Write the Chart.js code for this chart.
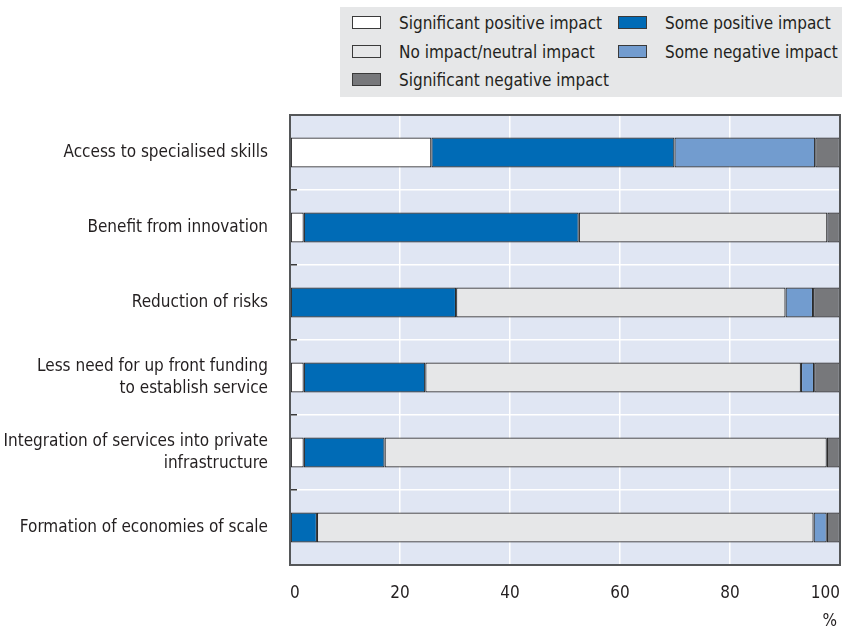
<!DOCTYPE html>
<html>
<head>
<meta charset="utf-8">
<script src="https://cdn.jsdelivr.net/npm/chart.js@4/dist/chart.umd.min.js"></script>
<style>
    body { margin: 0; background: #fff; }
    #wrap { position: relative; width: 842px; height: 630px; }
    #impact-chart { position: absolute; left: 0; top: 0; }
    #legend {
        position: absolute; left: 340px; top: 7px; width: 502px; height: 90px;
        background: #e6e7e8;
        font-family: "Liberation Sans Narrow", "DejaVu Sans Condensed", "Arial Narrow", sans-serif;
        font-size: 17px; color: #231f20;
    }
    .item { position: absolute; height: 20px; line-height: 20px; white-space: nowrap; }
    .item span.box {
        position: absolute; left: 0; top: 3px; width: 27px; height: 11px;
        border: 1.5px solid #3a3a3a;
    }
    .item span.txt { position: absolute; left: 47px; top: 0; }
</style>
</head>
<body>
<div id="wrap">
    <canvas id="impact-chart" width="842" height="630"></canvas>
    <div id="legend"></div>
</div>
<script>
// Perceived impact of outsourcing, share of respondents (%)
const categories = [
    'Access to specialised skills',
    'Benefit from innovation',
    'Reduction of risks',
    ['Less need for up front funding', 'to establish service'],
    ['Integration of services into private', 'infrastructure'],
    'Formation of economies of scale'
];

const seriesNames = [
    'Significant positive impact',
    'Some positive impact',
    'No impact/neutral impact',
    'Some negative impact',
    'Significant negative impact'
];

const significantPositive = [25.7, 2.5, null, 2.5, 2.5, null];
const somePositive        = [44.2, 50.0, 30.2, 22.1, 14.7, 4.9];
const noImpact            = [null, 45.2, 59.9, 68.3, 80.4, 90.3];
const someNegative        = [25.6, null, 5.0, 2.4, null, 2.4];
const significantNegative = [4.5, 2.3, 4.9, 4.7, 2.4, 2.4];

const xTicks = [0, 20, 40, 60, 80, 100];

const seriesColors = ['#ffffff', '#006bb6', '#e6e7e8', '#729ccf', '#77787b'];
const seriesValues = [significantPositive, somePositive, noImpact, someNegative, significantNegative];

const FONT = '"Liberation Sans Narrow", "DejaVu Sans Condensed", "Arial Narrow", sans-serif';

// plot background and the frame around it
const plotFrame = {
    id: 'plotFrame',
    beforeDraw(chart) {
        const { ctx, chartArea: a } = chart;
        ctx.save();
        ctx.fillStyle = '#e0e6f3';
        ctx.fillRect(a.left, a.top, a.right - a.left, a.bottom - a.top);
        ctx.restore();
    },
    afterDatasetsDraw(chart) {
        const { ctx, chartArea: a } = chart;
        ctx.save();
        ctx.strokeStyle = '#555759';
        ctx.lineWidth = 2;
        ctx.strokeRect(a.left, a.top, a.right - a.left, a.bottom - a.top);
        ctx.restore();
    }
};

// "%" unit under the last tick label
const unitLabel = {
    id: 'unitLabel',
    afterDraw(chart) {
        const { ctx } = chart;
        const x = chart.scales.x;
        ctx.save();
        ctx.font = '17px ' + FONT;
        ctx.fillStyle = '#231f20';
        ctx.textAlign = 'right';
        ctx.textBaseline = 'middle';
        ctx.fillText('%', x.getPixelForValue(100) - 3, 622);
        ctx.restore();
    }
};

const chart = new Chart(document.getElementById('impact-chart').getContext('2d'), {
    type: 'bar',
    data: {
        labels: categories,
        datasets: seriesNames.map((name, i) => ({
            label: name,
            data: seriesValues[i],
            backgroundColor: seriesColors[i],
            borderColor: '#2b2b2b',
            borderWidth: 1.2,
            borderSkipped: false,
            barPercentage: 0.4,
            categoryPercentage: 1
        }))
    },
    options: {
        indexAxis: 'y',
        responsive: false,
        animation: false,
        layout: { padding: { top: 115, right: 2, left: 0, bottom: 0 } },
        plugins: {
            legend: { display: false },
            tooltip: { enabled: false }
        },
        scales: {
            x: {
                stacked: true,
                min: 0,
                max: 100,
                afterBuildTicks(scale) {
                    scale.ticks = xTicks.map(v => ({ value: v }));
                },
                afterFit(scale) {
                    scale.height = 65;
                    scale.paddingLeft = 0;
                    scale.paddingRight = 0;
                },
                grid: { color: '#ffffff', lineWidth: 1.5, drawTicks: false },
                border: { display: false },
                ticks: {
                    align: 'inner',
                    padding: 18,
                    color: '#231f20',
                    font: { family: FONT, size: 17 }
                }
            },
            y: {
                stacked: true,
                afterFit(scale) {
                    scale.width = 290;
                    scale.paddingTop = 0;
                    scale.paddingBottom = 0;
                },
                grid: {
                    offset: true,
                    color: '#ffffff',
                    lineWidth: 1.5,
                    drawTicks: true,
                    tickLength: -7,
                    tickColor: '#3a3a3a',
                    tickWidth: 1.5
                },
                border: { display: false },
                ticks: {
                    padding: 29,
                    color: '#231f20',
                    font: { family: FONT, size: 17, lineHeight: 1.28 }
                }
            }
        }
    },
    plugins: [plotFrame, unitLabel]
});

// two-column legend built from the chart's datasets
const legendEl = document.getElementById('legend');
const colX = [12, 278];
const rowY = [6, 35, 63];
chart.data.datasets.forEach((ds, i) => {
    const item = document.createElement('div');
    item.className = 'item';
    item.style.left = colX[i % 2] + 'px';
    item.style.top = rowY[Math.floor(i / 2)] + 'px';
    const box = document.createElement('span');
    box.className = 'box';
    box.style.background = ds.backgroundColor;
    const txt = document.createElement('span');
    txt.className = 'txt';
    txt.textContent = ds.label;
    item.appendChild(box);
    item.appendChild(txt);
    legendEl.appendChild(item);
});
</script>
</body>
</html>
